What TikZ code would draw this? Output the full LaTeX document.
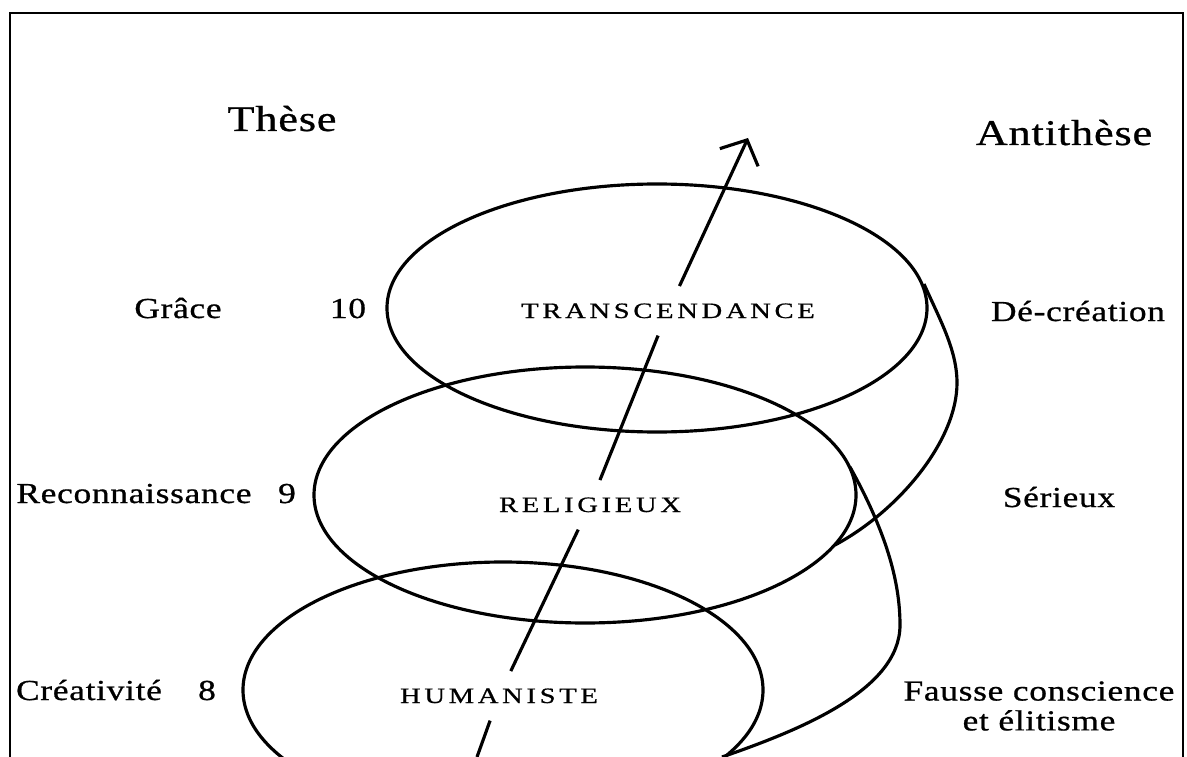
\documentclass[tikz,border=0pt]{standalone}
\usepackage{graphicx}
\usepackage{fontspec}
\setmainfont{Liberation Serif}
\newfontfamily\sidefont[LetterSpace=2,FakeBold=0.7]{Liberation Serif}
\newfontfamily\stagefont[LetterSpace=13,FakeBold=0.7]{Liberation Serif}
\newcommand{\widetext}[1]{\scalebox{1.22}[1]{#1}}
\newcommand{\widecaps}[1]{\scalebox{1.3}[1]{#1}}
\usetikzlibrary{arrows.meta}

\begin{document}
\begin{tikzpicture}[x=0.02cm,y=-0.02cm,line width=1.8pt,
    title/.style={anchor=base,inner sep=0pt,font=\sidefont\fontsize{20.6}{24}\selectfont},
    side/.style={anchor=base,inner sep=0pt,font=\sidefont\fontsize{16.5}{17}\selectfont},
    stage/.style={anchor=base,inner xsep=2pt,inner ysep=9pt,font=\stagefont\fontsize{12.5}{14}\selectfont}]
    \useasboundingbox (0,0) rectangle (1187,757);
    \draw[line width=1.3pt] (10,757) -- (10,13) -- (1183,13) -- (1183,757);

    \draw (657,308) ellipse [x radius=270,y radius=124];
    \draw (585,495) ellipse [x radius=271,y radius=128];
    \draw (503,690) ellipse [x radius=260,y radius=128];
    \draw (924,284) .. controls (940,320) and (957,350) .. (957,383)
        .. controls (957,440) and (900,510) .. (835,545);
    \draw (850,467) .. controls (885,530) and (900,580) .. (900,625)
        .. controls (900,690) and (800,730) .. (722,757);

    \node[title] (these) at (282,131) {\widetext{Thèse}};
    \node[title] (antithese) at (1064,145) {\widetext{Antithèse}};

    \node[side] (grace) at (178,318) {\widetext{Grâce}};
    \node[side] (ten) at (348,318) {\widetext{10}};
    \node[stage] (trans) at (668,318) {\widecaps{TRANSCENDANCE}};
    \node[side] (decreation) at (1078,321) {\widetext{Dé-création}};

    \node[side] (reconn) at (134,503) {\widetext{Reconnaissance}};
    \node[side] (nine) at (287,503) {\widetext{9}};
    \node[stage] (relig) at (590,512) {\widecaps{RELIGIEUX}};
    \node[side] (serieux) at (1059,507) {\widetext{Sérieux}};

    \node[side] (creat) at (89,700) {\widetext{Créativité}};
    \node[side] (eight) at (207,700) {\widetext{8}};
    \node[stage] (human) at (499,703) {\widecaps{HUMANISTE}};
    \node[side,anchor=center,align=center] (fausse) at (1039,706)
        {\widetext{Fausse conscience}\\\widetext{et élitisme}};

    \coordinate (arrowstart) at (477,757);
    \coordinate (arrowtip) at (748,138);
    \draw (arrowstart) -- (human);
    \draw (human) -- (relig);
    \draw (relig) -- (trans);
    \draw[-{Straight Barb[length=11pt,width=24pt]}] (trans) -- (arrowtip);
\end{tikzpicture}
\end{document}
